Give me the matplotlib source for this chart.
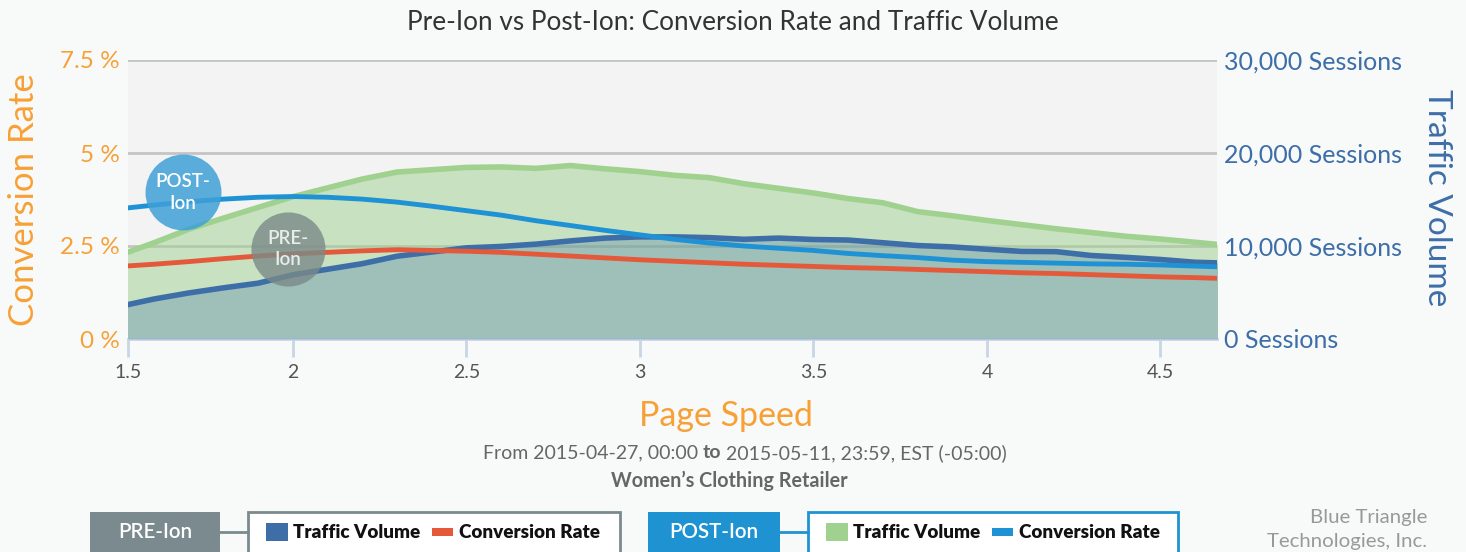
import numpy as np
import matplotlib.pyplot as plt
from matplotlib.patches import Rectangle

plt.rcParams['font.family'] = ['Lato', 'DejaVu Sans']

# page speed (seconds)
speed = [1.5, 1.6, 1.7, 1.8, 1.9, 2.0, 2.1, 2.2, 2.3, 2.4, 2.5, 2.6, 2.7, 2.8, 2.9, 3.0,
         3.1, 3.2, 3.3, 3.4, 3.5, 3.6, 3.7, 3.8, 3.9, 4.0, 4.1, 4.2, 4.3, 4.4, 4.5, 4.6, 4.7]

# sessions
pre_traffic = [3500, 4300, 4950, 5500, 6000, 6900, 7500, 8100, 8900, 9350, 9800, 9950, 10200,
               10550, 10850, 10980, 10980, 10900, 10720, 10850, 10700, 10640, 10350, 10050,
               9900, 9650, 9420, 9390, 8980, 8780, 8550, 8250, 8150]
post_traffic = [9000, 10350, 11800, 13000, 14150, 15300, 16250, 17200, 17950, 18200, 18450,
                18500, 18350, 18650, 18300, 18000, 17600, 17350, 16700, 16200, 15700, 15100,
                14650, 13700, 13250, 12750, 12300, 11850, 11450, 11050, 10750, 10400, 10050]

# conversion rate (%)
pre_conv = [1.95, 2.01, 2.08, 2.16, 2.23, 2.29, 2.33, 2.37, 2.40, 2.38, 2.36, 2.33, 2.28, 2.23,
            2.18, 2.13, 2.09, 2.05, 2.01, 1.98, 1.95, 1.92, 1.90, 1.87, 1.84, 1.81, 1.78, 1.76,
            1.73, 1.70, 1.67, 1.65, 1.62]
post_conv = [3.50, 3.60, 3.69, 3.76, 3.81, 3.83, 3.81, 3.76, 3.68, 3.57, 3.45, 3.33, 3.18, 3.05,
             2.92, 2.80, 2.68, 2.58, 2.50, 2.44, 2.38, 2.30, 2.24, 2.19, 2.12, 2.08, 2.06, 2.04,
             2.02, 2.01, 1.99, 1.96, 1.93]

xtick_pos = [1.525, 2, 2.5, 3, 3.5, 4, 4.5]
xtick_labels = ['1.5', '2', '2.5', '3', '3.5', '4', '4.5']
conv_ticks = [0, 2.5, 5, 7.5]
conv_labels = ['0 %', '2.5 %', '5 %', '7.5 %']
sess_ticks = [0, 10000, 20000, 30000]
sess_labels = ['0 Sessions', '10,000 Sessions', '20,000 Sessions', '30,000 Sessions']

ORANGE = '#f7a035'
NAVY = '#3d6ea8'
RED = '#e4593a'
LBLUE = '#1e92d4'
GREEN = '#a0d18f'
GREYBOX = '#7a8a8e'

W, H = 1466, 552
fig = plt.figure(figsize=(W / 100, H / 100), dpi=100, facecolor='#f8f9f9')


def fx(px):
    return px / W


def fy(py):
    return 1 - py / H


ax = fig.add_axes([fx(128), fy(339), fx(1217) - fx(128), fy(60) - fy(339)])
ax.set_facecolor('#f2f3f2')
ax2 = ax.twinx()

# traffic on ax (ticks on right)
ax.fill_between(speed, post_traffic, color=GREEN, alpha=0.5, lw=0, zorder=2)
ax.fill_between(speed, pre_traffic, color=NAVY, alpha=0.29, lw=0, zorder=3)
ax.plot(speed, post_traffic, color=GREEN, lw=4, zorder=4, solid_capstyle='butt')
ax.plot(speed, pre_traffic, color=NAVY, lw=4, zorder=5, solid_capstyle='butt')
ax.set_ylim(0, 30000)
ax.set_yticks(sess_ticks)
ax.set_yticklabels(sess_labels)
ax.yaxis.tick_right()
ax.tick_params(axis='y', length=0, pad=5, labelsize=18, labelcolor=NAVY)
ax.grid(axis='y', color='#c4c4c4', lw=2, zorder=1)
ax.set_axisbelow(True)

# conversion on ax2 (ticks on left)
ax2.plot(speed, pre_conv, color=RED, lw=3.5, zorder=5)
ax2.plot(speed, post_conv, color=LBLUE, lw=3.5, zorder=5)
ax2.set_ylim(0, 7.5)
ax2.set_yticks(conv_ticks)
ax2.set_yticklabels(conv_labels)
ax2.yaxis.tick_left()
ax2.tick_params(axis='y', length=0, pad=6, labelsize=17.5, labelcolor=ORANGE)

ax.set_xlim(1.525, 4.663)
ax.set_xticks(xtick_pos)
ax.set_xticklabels(xtick_labels)
ax.tick_params(axis='x', length=13, width=2, color='#c8d6e5', labelsize=14,
               labelcolor='#555555', pad=5)

for a in (ax, ax2):
    for s in ('top', 'left', 'right', 'bottom'):
        a.spines[s].set_visible(False)
ax.spines['bottom'].set_visible(True)
ax.spines['bottom'].set_color('#c8d6e5')
ax.spines['bottom'].set_linewidth(2)

# annotation bubbles
ax2.scatter([1.683], [3.95], s=2990, color='#3fa0d8', alpha=0.85, lw=0, zorder=10)
ax2.text(1.683, 3.95, 'POST-\nIon', color='white', ha='center', va='center',
         fontsize=13.5, linespacing=1.35, zorder=11, fontweight='semibold')
ax2.scatter([1.986], [2.42], s=2850, color='#7a8a88', alpha=0.8, lw=0, zorder=10)
ax2.text(1.986, 2.42, 'PRE-\nIon', color='#e8ecec', ha='center', va='center',
         fontsize=13.5, linespacing=1.35, zorder=11, fontweight='semibold')

# titles
fig.text(0.5, fy(22), 'Pre-Ion vs Post-Ion: Conversion Rate and Traffic Volume',
         ha='center', va='center', fontsize=18.8, color='#333333')
fig.text(fx(24), fy(200), 'Conversion Rate', rotation=90, ha='center', va='center',
         fontsize=25, color=ORANGE)
fig.text(fx(1437), fy(198), 'Traffic Volume', rotation=-90, ha='center', va='center',
         fontsize=24, color=NAVY)
fig.text(fx(726), fy(416), 'Page Speed', ha='center', va='center', fontsize=24.5, color=ORANGE)

# subtitle with bold "to", laid out piece by piece
parts = [('From 2015-04-27, 00:00 ', 'normal'), ('to', 'bold'),
         (' 2015-05-11, 23:59, EST (-05:00)', 'normal')]
renderer = fig.canvas.get_renderer()
texts = [fig.text(0, fy(453), s, ha='left', va='center', fontsize=14, color='#666666',
                  fontweight=w) for s, w in parts]
widths = [t.get_window_extent(renderer).width for t in texts]
xpos = 745 - sum(widths) / 2
for t, wd in zip(texts, widths):
    t.set_x(fx(xpos))
    xpos += wd

fig.text(fx(729), fy(481), 'Women\u2019s Clothing Retailer', ha='center', va='center',
         fontsize=14.2, color='#666666', fontweight='bold')


def frect(x0, y0, x1, y1, **kw):
    r = Rectangle((fx(x0), fy(y1)), fx(x1) - fx(x0), fy(y0) - fy(y1),
                  transform=fig.transFigure, **kw)
    fig.patches.append(r)


# bottom legend groups
groups = [
    (90, 220, 248, 620, GREYBOX, 'PRE-Ion', NAVY, RED),
    (648, 780, 808, 1178, '#1f93d2', 'POST-Ion', GREEN, LBLUE),
]
for b0, b1, l0, l1, col, name, tcol, ccol in groups:
    frect(b0, 512, b1, 560, color=col, lw=0)
    fig.text(fx((b0 + b1) / 2), fy(532), name, color='white', ha='center', va='center',
             fontsize=14.8, fontweight='semibold')
    fig.lines.append(plt.Line2D([fx(b1), fx(l0)], [fy(532), fy(532)], color=col, lw=2,
                                transform=fig.transFigure))
    frect(l0, 512, l1, 560, facecolor='white', edgecolor=col, lw=2)
    frect(l0 + 18, 523, l0 + 40, 541, color=tcol, lw=0)
    fig.text(fx(l0 + 45), fy(532), 'Traffic Volume', ha='left', va='center',
             fontsize=13.6, fontweight='heavy', color='#111111')
    frect(l0 + 184, 528, l0 + 205, 536, color=ccol, lw=0)
    fig.text(fx(l0 + 211), fy(532), 'Conversion Rate', ha='left', va='center',
             fontsize=13.6, fontweight='heavy', color='#111111')

fig.text(fx(1427), fy(517), 'Blue Triangle', ha='right', va='center', fontsize=14.7,
         color='#999999')
fig.text(fx(1427), fy(542), 'Technologies, Inc.', ha='right', va='center', fontsize=14.7,
         color='#999999')

fig.savefig('out.png', dpi=100, facecolor=fig.get_facecolor())
